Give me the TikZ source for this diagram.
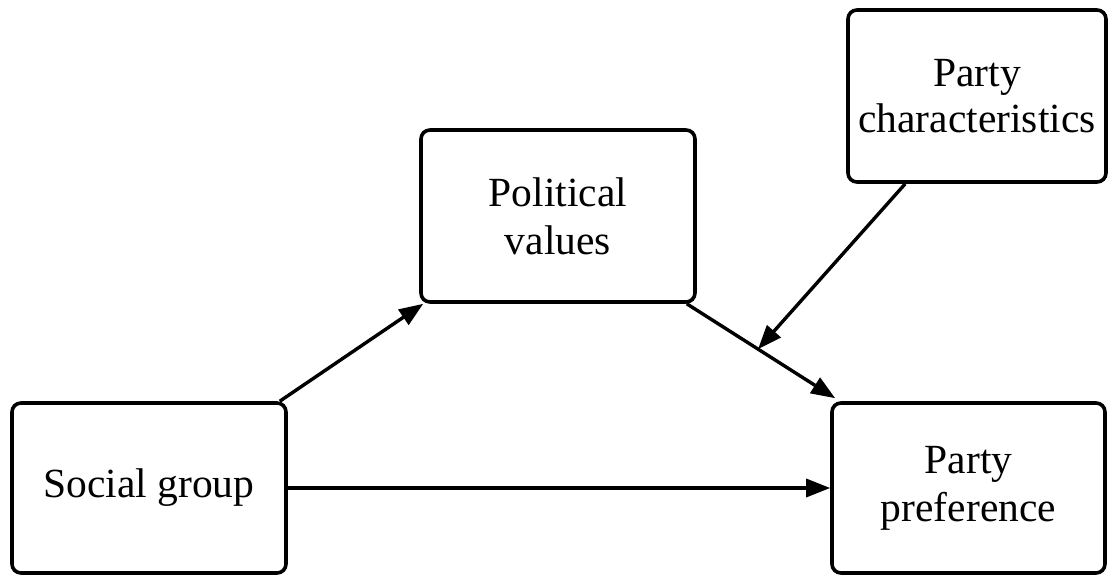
\documentclass[tikz,border=0pt]{standalone}
\usepackage{fontspec}
\setmainfont{Liberation Serif}
\usetikzlibrary{arrows.meta}
\begin{document}
\begin{tikzpicture}[x=1pt,y=-1pt,
  box/.style={draw, line width=3.6pt, rounded corners=9pt, align=center,
    font=\fontsize{41.5}{48}\selectfont, inner sep=0pt},
  conn/.style={line width=3.4pt, -{Triangle[length=24pt,width=18pt]}}]
\useasboundingbox (0,0) rectangle (1109,574);
\node[box, minimum width=274pt, minimum height=170pt] (sg) at (149,488) {Social group};
\node[box, minimum width=274pt, minimum height=172pt] (pv) at (558,216) {Political\\values};
\node[box, minimum width=258pt, minimum height=172pt] (pc) at (977,96) {Party\\[-2pt]characteristics};
\node[box, minimum width=273pt, minimum height=170pt] (pp) at (968.5,488) {Party\\preference};
\draw[conn] ([xshift=-8pt]sg.north east) -- ([xshift=4pt]pv.south west);
\draw[conn] ([xshift=-10pt]pv.south east) -- ([shift={(5,-3)}]pp.north west)
  coordinate[pos=0.48] (m);
\draw[conn] (sg.east) -- (sg.east -| pp.west);
\draw[conn] ([xshift=59pt]pc.south west) -- (m);
\end{tikzpicture}
\end{document}
